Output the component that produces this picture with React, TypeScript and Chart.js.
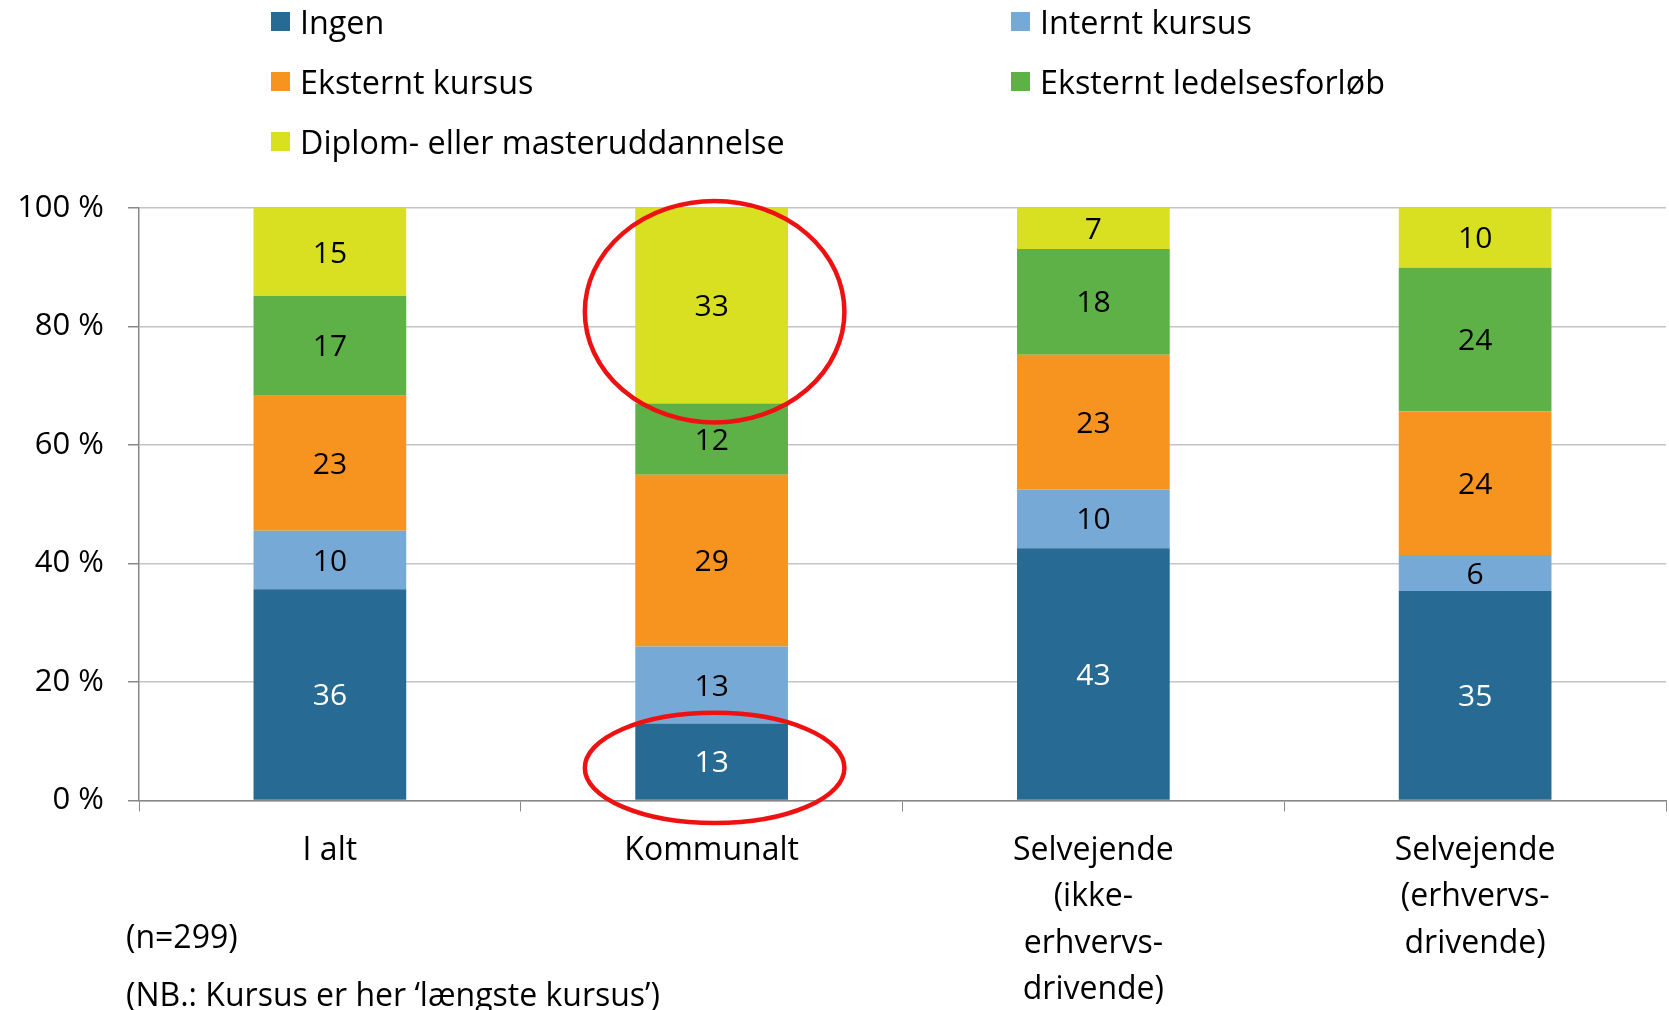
import React, { useEffect, useRef } from "react";
import { Chart, registerables } from "chart.js";

Chart.register(...registerables);

// ---------- data ----------
const categories: string[][] = [
  ["I alt"],
  ["Kommunalt"],
  ["Selvejende", "(ikke-", "erhvervs-", "drivende)"],
  ["Selvejende", "(erhvervs-", "drivende)"],
];
const seriesNames = [
  "Ingen",
  "Internt kursus",
  "Eksternt kursus",
  "Eksternt ledelsesforløb",
  "Diplom- eller masteruddannelse",
];
const ingen = [36, 13, 43, 35];
const interntKursus = [10, 13, 10, 6];
const eksterntKursus = [23, 29, 23, 24];
const eksterntLedelsesforloeb = [17, 12, 18, 24];
const diplomMaster = [15, 33, 7, 10];
const yTicks = [0, 20, 40, 60, 80, 100];
const notes = ["(n=299)", "(NB.: Kursus er her ‘længste kursus’)"];

// highlight ellipses (category index, centre in %, vertical radius in %, horizontal radius as share of category width)
const highlightCategory = [1, 1];
const highlightCentre = [82.5, 5.5];
const highlightRadiusY = [18.7, 9.3];
const highlightRadiusX = [0.34, 0.34];

// ---------- styles ----------
const colors = ["#276A93", "#77A9D6", "#F7941F", "#5EB146", "#D8E021"];
const labelColors = ["#FFFFFF", "#000000", "#000000", "#000000", "#000000"];
const FONT = "'Open Sans', Lato, sans-serif";

const allSeries = [ingen, interntKursus, eksterntKursus, eksterntLedelsesforloeb, diplomMaster];
const totals = categories.map((_, i) => allSeries.reduce((s, a) => s + a[i], 0));

const overlayPlugin = {
  id: "overlay",
  afterDatasetsDraw(chart: any) {
    const ctx = chart.ctx;
    ctx.save();
    ctx.font = `30px ${FONT}`;
    ctx.textAlign = "center";
    ctx.textBaseline = "middle";
    chart.data.datasets.forEach((ds: any, di: number) => {
      const meta = chart.getDatasetMeta(di);
      meta.data.forEach((el: any, i: number) => {
        const raw = allSeries[di][i];
        ctx.fillStyle = labelColors[di];
        ctx.fillText(String(raw), el.x, (el.y + el.base) / 2 + 2);
      });
    });
    // ellipses
    const xs = chart.scales.x;
    const ys = chart.scales.y;
    const catW = (xs.right - xs.left) / categories.length;
    ctx.strokeStyle = "#EE1111";
    ctx.lineWidth = 4.5;
    highlightCategory.forEach((c, k) => {
      const cx = xs.getPixelForValue(c) + 3;
      const cy = ys.getPixelForValue(highlightCentre[k]);
      const ry = Math.abs(ys.getPixelForValue(0) - ys.getPixelForValue(highlightRadiusY[k]));
      const rx = catW * highlightRadiusX[k];
      ctx.beginPath();
      ctx.ellipse(cx, cy, rx, ry, 0, 0, Math.PI * 2);
      ctx.stroke();
    });
    ctx.restore();
  },
};

export default function App() {
  const ref = useRef<HTMLCanvasElement>(null);
  useEffect(() => {
    if (!ref.current) return;
    const chart = new Chart(ref.current, {
      type: "bar",
      data: {
        labels: categories,
        datasets: seriesNames.map((name, di) => ({
          label: name,
          data: allSeries[di].map((v, i) => (v / totals[i]) * 100),
          backgroundColor: colors[di],
          borderWidth: 0,
          barPercentage: 0.4,
          categoryPercentage: 1,
        })),
      },
      options: {
        animation: false,
        responsive: false,
        devicePixelRatio: 1,
        layout: { padding: { top: 208, right: 3, left: 0, bottom: 0 } },
        plugins: { legend: { display: false }, tooltip: { enabled: false } },
        scales: {
          x: {
            stacked: true,
            grid: {
              offset: true,
              drawOnChartArea: false,
              drawTicks: true,
              tickLength: 11,
              color: "#888888",
            },
            border: { color: "#888888", width: 1.5 },
            ticks: {
              color: "#000000",
              font: { family: FONT, size: 32, lineHeight: 1.45 },
              padding: 16,
              maxRotation: 0,
              autoSkip: false,
            },
            afterFit(s: any) {
              s.height = 209.5;
            },
          },
          y: {
            stacked: true,
            min: 0,
            max: 100,
            afterBuildTicks(s: any) {
              s.ticks = yTicks.map((v) => ({ value: v }));
            },
            grid: {
              color: "#C4C4C4",
              lineWidth: 1.5,
              tickLength: 11,
              tickColor: "#888888",
            },
            border: { color: "#888888", width: 1.5 },
            ticks: {
              color: "#000000",
              font: { family: FONT, size: 31 },
              padding: 24,
              callback: (v: any) => `${v} %`,
            },
            afterFit(s: any) {
              s.width = 139;
            },
          },
        },
      },
      plugins: [overlayPlugin],
    });
    return () => chart.destroy();
  }, []);

  const legendPos = [
    { x: 271, y: 21 },
    { x: 1011, y: 21 },
    { x: 271, y: 81 },
    { x: 1011, y: 81 },
    { x: 271, y: 141 },
  ];

  return (
    <div style={{ position: "fixed", left: 0, top: 0, width: 1669, height: 1010, background: "#fff", overflow: "hidden", fontFamily: FONT }}>
      <canvas ref={ref} width={1669} height={1010} style={{ position: "absolute", left: 0, top: 0, width: 1669, height: 1010 }} />
      {seriesNames.map((name, i) => (
        <div key={name} style={{ position: "absolute", left: legendPos[i].x, top: legendPos[i].y - 20, height: 40, display: "flex", alignItems: "center", fontSize: 32.3, color: "#000", whiteSpace: "nowrap" }}>
          <span style={{ display: "inline-block", width: 19, height: 19, background: colors[i], marginRight: 10 }} />
          <span>{name}</span>
        </div>
      ))}
      {notes.map((t, i) => (
        <div key={t} style={{ position: "absolute", left: 126, top: (i === 0 ? 935 : 993) - 20, height: 40, display: "flex", alignItems: "center", fontSize: 32, color: "#000", whiteSpace: "nowrap" }}>
          {t}
        </div>
      ))}
    </div>
  );
}
